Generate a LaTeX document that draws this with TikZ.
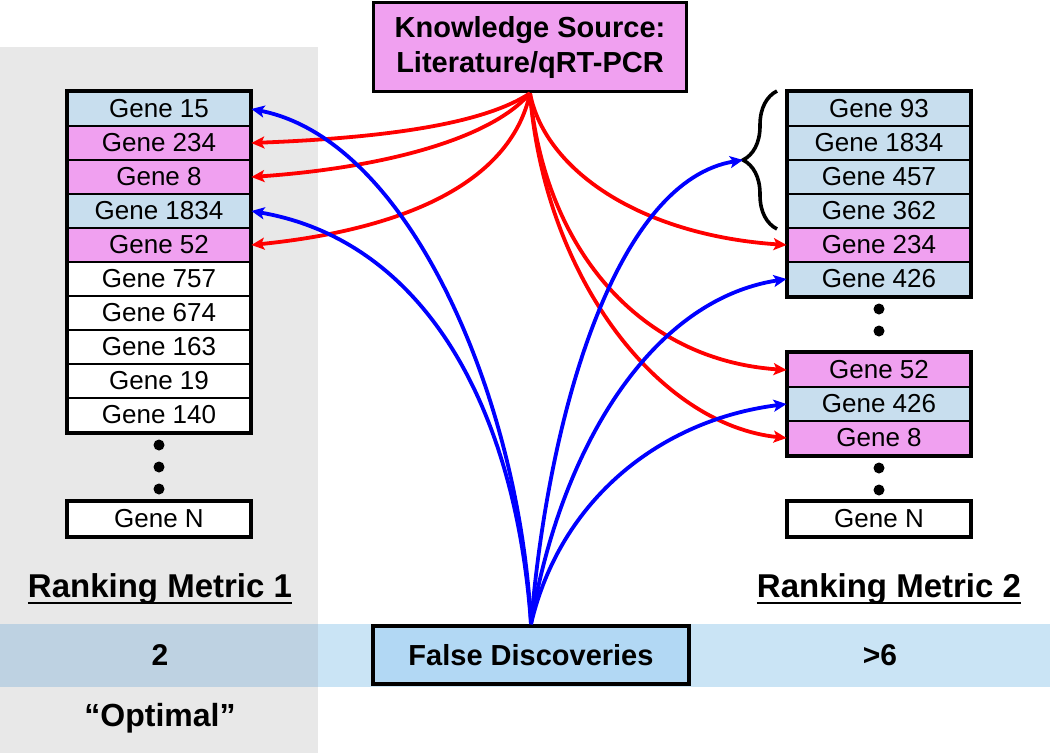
\documentclass[tikz,border=0pt]{standalone}
\usepackage{fontspec}
\setmainfont{Liberation Sans}
\usetikzlibrary{arrows.meta,decorations.pathreplacing}
\definecolor{panelgray}{RGB}{232,232,232}
\definecolor{bandblue}{RGB}{202,228,245}
\definecolor{bandgray}{RGB}{190,210,226}
\definecolor{cellpink}{RGB}{240,160,240}
\definecolor{cellblue}{RGB}{200,222,238}
\definecolor{fdblue}{RGB}{178,216,244}
\definecolor{arrred}{RGB}{255,0,0}
\definecolor{arrblue}{RGB}{0,0,255}
\begin{document}
\begin{tikzpicture}[x=1pt,y=-1pt,
 cell/.style={draw=black, line width=2.8pt, minimum width=182pt, minimum height=34pt, inner sep=0pt, font=\fontsize{26}{30}\selectfont},
 pinkcell/.style={cell, fill=cellpink},
 bluecell/.style={cell, fill=cellblue},
 whitecell/.style={cell, fill=white},
 colframe/.style={draw=black, line width=3.8pt},
 dotmark/.style={circle, fill=black, inner sep=0pt, minimum size=11pt},
 redarrow/.style={draw=arrred, line width=3.8pt, -{Stealth[length=13pt,width=12pt,inset=3pt]}},
 bluearrow/.style={draw=arrblue, line width=3.8pt, -{Stealth[length=13pt,width=12pt,inset=3pt]}},
 bigtext/.style={font=\bfseries\fontsize{30}{36}\selectfont, inner sep=0pt},
 metric/.style={font=\bfseries\fontsize{33}{38}\selectfont, inner sep=0pt, anchor=base},
]
\useasboundingbox (0,0) rectangle (1050,753);
% background panel and band
\fill[panelgray] (0,47) rectangle (318,753);
\fill[bandblue] (318,624) rectangle (1050,687);
\fill[bandgray] (0,624) rectangle (318,687);

% knowledge source
\node[draw=black, line width=3.5pt, fill=cellpink, minimum width=313pt, minimum height=89pt, inner sep=0pt, align=center, font=\bfseries\fontsize{29}{35}\selectfont] (ks) at (530,47) {Knowledge Source:\\Literature/qRT-PCR};

% left column
\node[bluecell]  (l1)  at (159,109) {Gene 15};
\node[pinkcell]  (l2)  at (159,143) {Gene 234};
\node[pinkcell]  (l3)  at (159,177) {Gene 8};
\node[bluecell]  (l4)  at (159,211) {Gene 1834};
\node[pinkcell]  (l5)  at (159,245) {Gene 52};
\node[whitecell] (l6)  at (159,279) {Gene 757};
\node[whitecell] (l7)  at (159,313) {Gene 674};
\node[whitecell] (l8)  at (159,347) {Gene 163};
\node[whitecell] (l9)  at (159,381) {Gene 19};
\node[whitecell] (l10) at (159,415) {Gene 140};
\draw[colframe] (l1.north west) rectangle (l10.south east);
\node[dotmark] (ld1) at (159,445) {};
\node[dotmark] (ld2) at (159,467) {};
\node[dotmark] (ld3) at (159,489) {};
\node[whitecell] (lN) at (159,519) {Gene N};
\draw[colframe] (lN.north west) rectangle (lN.south east);

% right column
\node[bluecell]  (r1) at (879,109) {Gene 93};
\node[bluecell]  (r2) at (879,143) {Gene 1834};
\node[bluecell]  (r3) at (879,177) {Gene 457};
\node[bluecell]  (r4) at (879,211) {Gene 362};
\node[pinkcell]  (r5) at (879,245) {Gene 234};
\node[bluecell]  (r6) at (879,279) {Gene 426};
\draw[colframe] (r1.north west) rectangle (r6.south east);
\node[dotmark] (rd1) at (879,309) {};
\node[dotmark] (rd2) at (879,331) {};
\node[pinkcell]  (r7) at (879,370) {Gene 52};
\node[bluecell]  (r8) at (879,404) {Gene 426};
\node[pinkcell]  (r9) at (879,438) {Gene 8};
\draw[colframe] (r7.north west) rectangle (r9.south east);
\node[dotmark] (rd3) at (879,468) {};
\node[dotmark] (rd4) at (879,490) {};
\node[whitecell] (rN) at (879,519) {Gene N};
\draw[colframe] (rN.north west) rectangle (rN.south east);

% brace
\draw[line width=3.6pt, decorate, decoration={brace, amplitude=34pt}] (777,229) -- (777,91);
\coordinate (bt) at (743,160);

% false discoveries
\node[draw=black, line width=3.8pt, fill=fdblue, minimum width=316pt, minimum height=58pt, inner sep=0pt, font=\bfseries\fontsize{29}{34}\selectfont] (fd) at (531,655) {False Discoveries};

% red arrows
\draw[redarrow] (ks.south) .. controls (482,125) and (380,138) .. (l2.east);
\draw[redarrow] (ks.south) .. controls (490,140) and (380,168) .. (l3.east);
\draw[redarrow] (ks.south) .. controls (510,185) and (400,230) .. (l5.east);
\draw[redarrow] (ks.south) .. controls (545,170) and (640,235) .. (r5.west);
\draw[redarrow] (ks.south) .. controls (545,250) and (640,360) .. (r7.west);
\draw[redarrow] (ks.south) .. controls (545,280) and (660,425) .. (r9.west);

% blue arrows
\draw[bluearrow] (fd.north) .. controls (520,400) and (410,140) .. (l1.east);
\draw[bluearrow] (fd.north) .. controls (515,400) and (420,240) .. (l4.east);
\draw[bluearrow] (fd.north) .. controls (550,400) and (620,180) .. (bt);
\draw[bluearrow] (fd.north) .. controls (560,450) and (650,300) .. (r6.west);
\draw[bluearrow] (fd.north) .. controls (560,500) and (660,420) .. (r8.west);

% labels
\node[metric] (rm1) at (160,597) {Ranking Metric 1};
\draw[line width=2.5pt] ([yshift=-6pt]rm1.base west) -- ([yshift=-6pt]rm1.base east);
\node[metric] (rm2) at (889,597) {Ranking Metric 2};
\draw[line width=2.5pt] ([yshift=-6pt]rm2.base west) -- ([yshift=-6pt]rm2.base east);
\node[bigtext] (two) at (160,655) {2};
\node[bigtext] (gt6) at (880,655) {>6};
\node[bigtext, font=\bfseries\fontsize{32}{38}\selectfont] (opt) at (160,718) {“Optimal”};
\end{tikzpicture}
\end{document}
